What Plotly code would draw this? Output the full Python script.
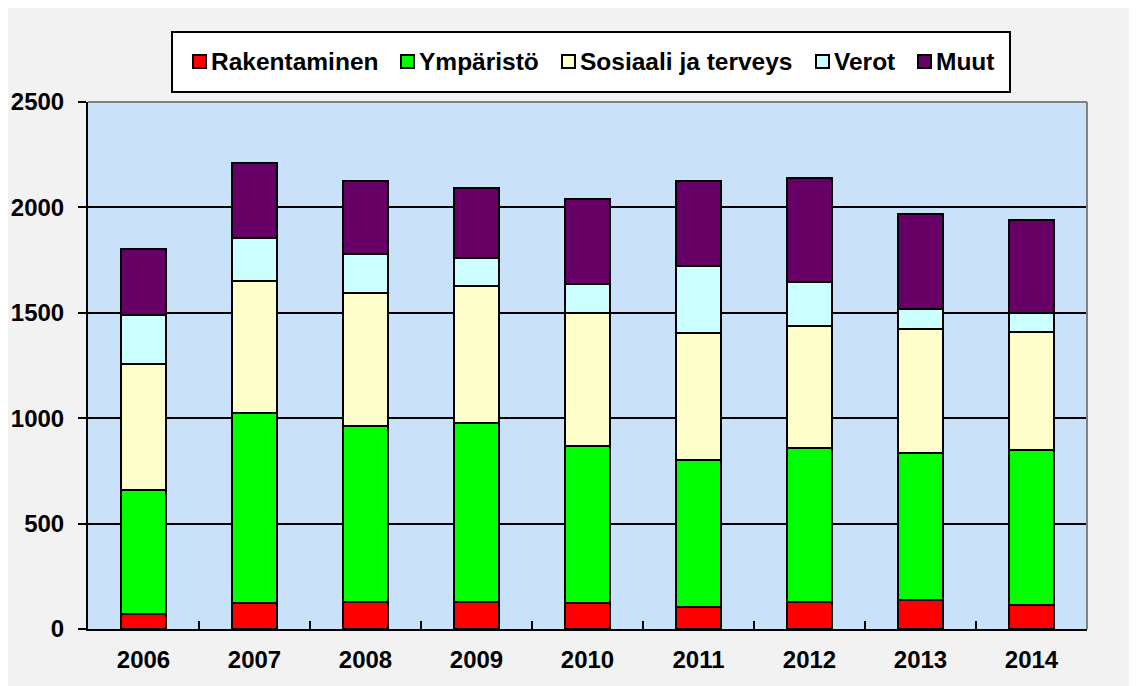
import plotly.graph_objects as go

years = ["2006", "2007", "2008", "2009", "2010", "2011", "2012", "2013", "2014"]
rakentaminen = [73, 123, 128, 130, 125, 106, 128, 136, 115]
ymparisto = [587, 901, 837, 846, 745, 694, 733, 698, 736]
sosiaali = [595, 629, 627, 649, 631, 606, 577, 590, 560]
verot = [234, 204, 188, 136, 136, 314, 207, 93, 86]
muut = [316, 355, 346, 332, 404, 403, 494, 454, 444]

series_names = ["Rakentaminen", "Ympäristö", "Sosiaali ja terveys", "Verot", "Muut"]
series_values = [rakentaminen, ymparisto, sosiaali, verot, muut]
series_colors = ["#FF0000", "#00FF00", "#FFFFCC", "#CCFFFF", "#660066"]

W, H = 1125, 686
L, R, T, B = 80, 46, 94, 65
pw, ph = W - L - R, H - T - B

def px(x):
    return (x - L) / pw

def py(y):
    return (H - B - y) / ph

FONT = "Liberation Sans, Arial, sans-serif"

fig = go.Figure()
for name, vals, col in zip(series_names, series_values, series_colors):
    fig.add_trace(go.Bar(
        x=years, y=vals, name=name,
        marker=dict(color=col, line=dict(color="black", width=2)),
        showlegend=False,
    ))

shapes = []
# gray top and right borders of plot area
shapes.append(dict(type="line", xref="paper", yref="paper", x0=0, x1=1, y0=1, y1=1,
                   line=dict(color="#808080", width=2), layer="above"))
shapes.append(dict(type="line", xref="paper", yref="paper", x0=1, x1=1, y0=0, y1=1,
                   line=dict(color="#808080", width=2), layer="above"))
# legend box
shapes.append(dict(type="rect", xref="paper", yref="paper", x0=px(164), x1=px(1002), y0=py(24), y1=py(84),
                   fillcolor="white", line=dict(color="black", width=2)))

annotations = []
legend_sq_x = [185, 393, 554, 808, 910]
cy = 53.5
for name, col, sx in zip(series_names, series_colors, legend_sq_x):
    shapes.append(dict(type="rect", xref="paper", yref="paper", x0=px(sx), x1=px(sx + 13),
                       y0=py(cy - 6.5), y1=py(cy + 6.5), fillcolor=col, line=dict(color="black", width=2)))
    annotations.append(dict(xref="paper", yref="paper", x=px(sx + 16), y=py(cy), text=name,
                            xanchor="left", yanchor="middle", showarrow=False,
                            font=dict(family=FONT, size=24.5, color="black", weight="bold")))

fig.update_layout(
    width=W, height=H,
    margin=dict(l=L, r=R, t=T, b=B, pad=0, autoexpand=False),
    paper_bgcolor="#F2F2F2",
    plot_bgcolor="#C9E2FA",
    barmode="stack",
    bargap=0.595,
    showlegend=False,
    shapes=shapes,
    annotations=annotations,
    xaxis=dict(
        type="category",
        automargin=False,
        tickson="boundaries",
        ticks="inside", ticklen=8, tickwidth=2, tickcolor="black",
        showline=True, linecolor="black", linewidth=2,
        showgrid=False,
        tickfont=dict(family=FONT, size=24, color="black", weight="bold"),
        ticklabelstandoff=8,
    ),
    yaxis=dict(
        range=[0, 2500], dtick=500,
        automargin=False,
        ticks="outside", ticklen=8, tickwidth=2, tickcolor="black",
        showline=True, linecolor="black", linewidth=2,
        showgrid=True, gridcolor="black", gridwidth=1.5,
        zeroline=False,
        tickfont=dict(family=FONT, size=24, color="black", weight="bold"),
        ticklabelstandoff=9,
    ),
)

fig.write_html("out.html")
